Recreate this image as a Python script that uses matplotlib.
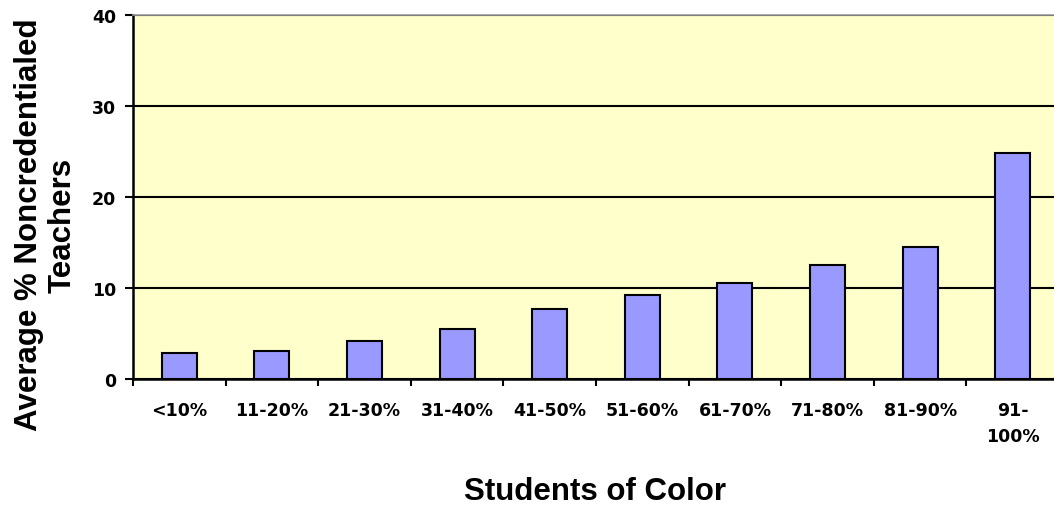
import numpy as np
import matplotlib
matplotlib.use("Agg")
import matplotlib.pyplot as plt

# data
categories = ["<10%", "11-20%", "21-30%", "31-40%", "41-50%",
              "51-60%", "61-70%", "71-80%", "81-90%", "91-\n100%"]
values = [2.9, 3.1, 4.2, 5.5, 7.7, 9.2, 10.5, 12.5, 14.5, 24.8]
yticks = [0, 10, 20, 30, 40]

fig = plt.figure(figsize=(10.54, 5.10), dpi=100)
fig.patch.set_facecolor("white")

# axes run a bit past the right edge, as in the original
ax = fig.add_axes([133/1054, 130/510, 926/1054, 364/510])
ax.set_facecolor("#FFFFCC")

x = np.arange(len(categories))
ax.bar(x, values, width=0.38, color="#9999FF", edgecolor="black",
       linewidth=1.5, zorder=3)

ax.set_xlim(-0.5, len(categories) - 0.5)
ax.set_ylim(0, 40)

# gridlines
ax.set_yticks(yticks)
ax.yaxis.grid(True, color="black", linewidth=1.5, zorder=1)
ax.set_axisbelow(True)

ax.set_yticklabels([str(t) for t in yticks], fontfamily="DejaVu Sans",
                   fontweight="bold", fontsize=12.5)
ax.tick_params(axis="y", direction="out", length=6, width=1.5, pad=6)

# category labels centred, ticks between categories
ax.set_xticks(x)
ax.set_xticklabels(categories, fontfamily="DejaVu Sans", fontweight="bold",
                   fontsize=12.5, linespacing=1.55)
ax.tick_params(axis="x", which="major", length=0, pad=16)
ax.set_xticks(np.arange(-0.5, len(categories), 1.0), minor=True)
ax.tick_params(axis="x", which="minor", direction="out", length=5, width=1.5)

for s in ["left", "bottom"]:
    ax.spines[s].set_linewidth(1.8)
    ax.spines[s].set_color("black")
ax.spines["top"].set_color("#999999")
ax.spines["top"].set_linewidth(1.2)
ax.spines["right"].set_visible(False)

# axis titles
fig.text(46/1054, 1 - 225/510, "Average % Noncredentialed\nTeachers",
         rotation=90, ha="center", va="center", multialignment="center",
         fontfamily="Liberation Sans", fontweight="bold", fontsize=22.5,
         linespacing=1.15)
fig.text(595/1054, 1 - 492/510, "Students of Color", ha="center",
         va="center", fontfamily="Liberation Sans", fontweight="bold",
         fontsize=22.5)

fig.savefig("out.png", dpi=100)
